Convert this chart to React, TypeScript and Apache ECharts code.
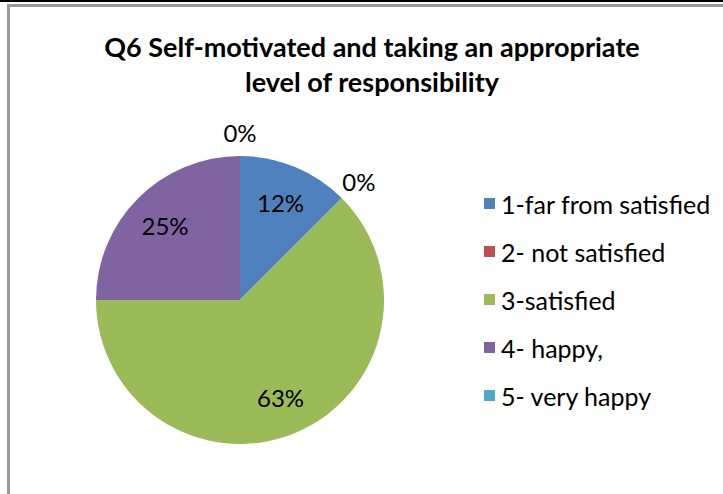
import React, { useEffect, useRef } from "react";
import * as echarts from "echarts";

const categories = ["1-far from satisfied", "2- not satisfied", "3-satisfied", "4- happy,", "5- very happy"];
const shares = [12.5, 0, 62.5, 25, 0];
const percentLabels = ["12%", "0%", "63%", "25%", "0%"];
const colors = ["#4F81BD", "#C0504D", "#9BBB59", "#8064A2", "#4BACC6"];
const titleText = "Q6 Self-motivated and taking an appropriate\nlevel of responsibility";

const FONT = "Lato, 'Open Sans', sans-serif";
const CX = 240;
const CY = 300;
const R = 144;

export default function App() {
  const ref = useRef<HTMLDivElement>(null);
  useEffect(() => {
    if (!ref.current) return;
    const chart = echarts.init(ref.current, null, { renderer: "svg" });
    const total = shares.reduce((a, b) => a + b, 0);
    const midAngles: number[] = [];
    let acc = 0;
    shares.forEach((v) => {
      midAngles.push(((acc + v / 2) / total) * 2 * Math.PI);
      acc += v;
    });
    chart.setOption({
      animation: false,
      backgroundColor: "#ffffff",
      title: {
        text: titleText,
        left: 372,
        top: 29,
        padding: 0,
        textAlign: "center",
        textStyle: { fontFamily: FONT, fontSize: 27, fontWeight: "bold", color: "#000", lineHeight: 35 },
      },
      legend: {
        orient: "vertical",
        left: 484,
        top: 191,
        itemWidth: 11,
        itemHeight: 11,
        itemGap: 23,
        icon: "rect",
        padding: 0,
        textStyle: { fontFamily: FONT, fontSize: 25, color: "#000", lineHeight: 25, padding: [0, 0, 0, 1] },
        data: categories,
      },
      graphic: [
        { type: "rect", shape: { x: 0, y: 0, width: 723, height: 2 }, style: { fill: "#000" }, silent: true },
        {
          type: "rect",
          shape: { x: 8.5, y: 5.5, width: 800, height: 600 },
          style: { fill: "none", stroke: "#999", lineWidth: 3 },
          silent: true,
        },
      ],
      series: [
        {
          type: "pie",
          center: [CX, CY],
          radius: R,
          startAngle: 90,
          clockwise: true,
          avoidLabelOverlap: false,
          stillShowZeroSum: true,
          itemStyle: { borderWidth: 0 },
          emphasis: { disabled: true },
          label: {
            show: true,
            position: "inside",
            fontFamily: FONT,
            fontSize: 24,
            color: "#000",
            formatter: (p: any) => percentLabels[p.dataIndex],
          },
          labelLine: { show: false },
          labelLayout: (p: any) => {
            const a = midAngles[p.dataIndex];
            const r = shares[p.dataIndex] === 0 ? 168 : 106;
            return {
              x: CX + r * Math.sin(a),
              y: CY - r * Math.cos(a),
              align: "center",
              verticalAlign: "middle",
            };
          },
          data: categories.map((name, i) => ({
            name,
            value: shares[i],
            itemStyle: { color: colors[i] },
          })),
        },
      ],
    });
    return () => chart.dispose();
  }, []);
  return <div ref={ref} style={{ width: 723, height: 494, position: "absolute", left: 0, top: 0 }} />;
}
